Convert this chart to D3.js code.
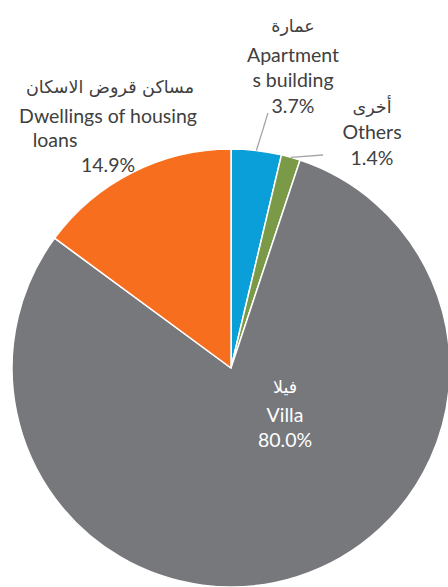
<!DOCTYPE html>
<html><head><meta charset="utf-8">
<script src="https://cdn.jsdelivr.net/npm/d3@7"></script>
<style>body{margin:0;background:#fff}svg{display:block}</style>
</head><body>
<svg id="c" width="448" height="587"></svg>
<script>
const categories = ["Apartments building", "Others", "Villa", "Dwellings of housing loans"];
const arabicNames = ["عمارة", "أخرى", "فيلا", "مساكن قروض الاسكان"];
const values = [3.7, 1.4, 80.0, 14.9];
const colors = ["#0A9FD9", "#7A9A47", "#77787B", "#F86E1F"];

const W = 448, H = 587;
const cx = 231, cy = 368, R = 219;
const svg = d3.select("#c");
const g = svg.append("g").attr("transform", `translate(${cx},${cy})`);

const pie = d3.pie().sort(null).value(d => d.v);
const data = pie(values.map((v, i) => ({v, i})));
const arc = d3.arc().innerRadius(0).outerRadius(R);

g.selectAll("path.slice").data(data).join("path")
  .attr("class", "slice")
  .attr("d", arc)
  .attr("fill", d => colors[d.data.i])
  .attr("stroke", "#fff").attr("stroke-width", 1.5).attr("stroke-linejoin", "round");

const fmt = v => v.toFixed(1) + "%";
const latin = "Lato, 'DejaVu Sans', sans-serif";
const arab = "'DejaVu Sans', sans-serif";
const fs = 19.5, fsA = 17.5;

// [text, centerX, baselineY, isArabic]
const labels = [
  {i: 0, color: "#404040", lines: [[arabicNames[0], 293, 32, 1], ["Apartment", 293, 62], ["s building", 293, 87], [fmt(values[0]), 293, 113]], leader: [268, 113]},
  {i: 1, color: "#404040", lines: [[arabicNames[1], 372, 113, 1], ["Others", 372, 139], [fmt(values[1]), 372, 165]], leader: [323, 155]},
  {i: 2, color: "#ffffff", lines: [[arabicNames[2], 285, 393, 1], ["Villa", 285, 422], [fmt(values[2]), 285, 447]]},
  {i: 3, color: "#404040", lines: [[arabicNames[3], 110, 93, 1], ["Dwellings of housing", 108, 123], ["loans", 55, 147], [fmt(values[3]), 108, 172]]}
];

const leaderArc = d3.arc().innerRadius(R).outerRadius(R);
labels.forEach(L => {
  if (L.leader) {
    const p = leaderArc.centroid(data[L.i]);
    svg.append("line")
      .attr("x1", cx + p[0]).attr("y1", cy + p[1])
      .attr("x2", L.leader[0]).attr("y2", L.leader[1])
      .attr("stroke", "#A6A6A6").attr("stroke-width", 1.3);
  }
  L.lines.forEach(([t, x, y, ar]) => {
    const el = svg.append("text").text(t)
      .attr("x", x).attr("y", y)
      .attr("font-family", ar ? arab : latin).attr("font-size", ar ? fsA : fs)
      .attr("fill", L.color);
    const bb = el.node().getBBox();
    el.attr("x", x - (bb.x + bb.width / 2 - x));
  });
});
</script>
</body></html>
